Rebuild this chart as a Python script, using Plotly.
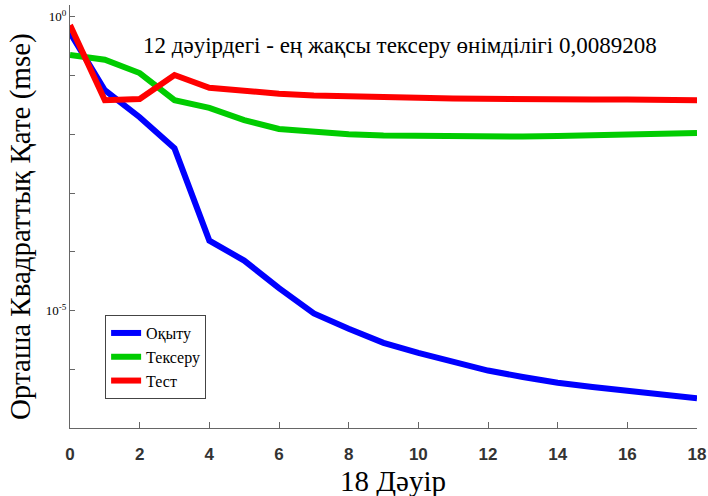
import plotly.graph_objects as go

epochs = list(range(0, 19))
train_mse = [0.537, 0.0562, 0.0195, 0.00575, 1.55e-4, 7.08e-5, 2.40e-5, 8.9e-6, 4.9e-6, 2.82e-6,
             1.9e-6, 1.35e-6, 9.5e-7, 7.4e-7, 5.9e-7, 5.0e-7, 4.3e-7, 3.7e-7, 3.2e-7]
val_mse = [0.224, 0.186, 0.110, 0.038, 0.0282, 0.0174, 0.0123, 0.0110, 0.0100, 0.00955,
           0.00933, 0.00905, 0.0089208, 0.00912, 0.00933, 0.00955, 0.00977, 0.0102, 0.0105]
test_mse = [0.72, 0.038, 0.0398, 0.102, 0.0617, 0.0537, 0.049, 0.0457, 0.0437, 0.0427,
            0.0417, 0.0407, 0.0398, 0.0398, 0.0389, 0.0389, 0.0389, 0.038, 0.038]

series_names = ["Оқыту", "Тексеру", "Тест"]
series_colors = ["#0000ff", "#00cc00", "#ff0000"]

x_ticks = list(range(0, 19, 2))
y_label_vals = [1e-5, 1e0]
y_label_text = ["10<sup>-5</sup>", "10<sup>0</sup>"]
y_minor_vals = [1e-7, 1e-6, 1e-4, 1e-3, 1e-2, 1e-1]

title_text = "12 дәуірдегі - ең жақсы тексеру өнімділігі 0,0089208"
x_title = "18 Дәуір"
y_title = "Орташа Квадраттық Қате (mse)"

serif = '"Liberation Serif", serif'

fig = go.Figure()
for name, ys, col in zip(series_names, [train_mse, val_mse, test_mse], series_colors):
    fig.add_trace(go.Scatter(x=epochs, y=ys, mode="lines", name=name,
                             line=dict(color=col, width=6)))

fig.update_layout(
    width=708, height=496,
    margin=dict(l=70, r=11, t=5, b=68, autoexpand=False),
    paper_bgcolor="white", plot_bgcolor="white",
    showlegend=True,
    legend=dict(x=0.056, y=0.267, xanchor="left", yanchor="top",
                bordercolor="#444", borderwidth=1, bgcolor="white",
                font=dict(family=serif, size=16, color="black")),
    annotations=[
        dict(text=title_text, xref="paper", yref="paper", x=0.526, y=0.905,
             xanchor="center", yanchor="middle", showarrow=False,
             font=dict(family=serif, size=23, color="black")),
        dict(text=x_title, xref="paper", yref="paper", x=0.515, y=-0.125,
             xanchor="center", yanchor="middle", showarrow=False,
             font=dict(family=serif, size=29, color="black")),
        dict(text=y_title, xref="paper", yref="paper", x=-0.08, y=0.477,
             xanchor="center", yanchor="middle", showarrow=False, textangle=-90,
             font=dict(family=serif, size=29, color="black")),
    ],
)
fig.update_xaxes(
    range=[0, 18], tickvals=x_ticks, ticks="inside", ticklen=6, tickcolor="#666",
    showline=True, linecolor="#666", linewidth=1, showgrid=False, zeroline=False,
    tickfont=dict(family="Liberation Sans, Arial, sans-serif", size=17, color="#333", weight="bold"),
    ticklabelstandoff=11, automargin=False,
)
fig.update_yaxes(
    type="log", range=[-7, 0.2], tickmode="array", tickvals=y_label_vals, ticktext=y_label_text,
    ticks="inside", ticklen=5, tickcolor="#666",
    minor=dict(tickmode="array", tickvals=y_minor_vals, ticks="inside", ticklen=5, tickcolor="#666", showgrid=False),
    showline=True, linecolor="#666", linewidth=1, showgrid=False, zeroline=False,
    tickfont=dict(family=serif, size=13, color="black"), automargin=False,
)

fig.write_html("out.html", config={"displayModeBar": False},
               post_script="document.body.style.margin='0';")
